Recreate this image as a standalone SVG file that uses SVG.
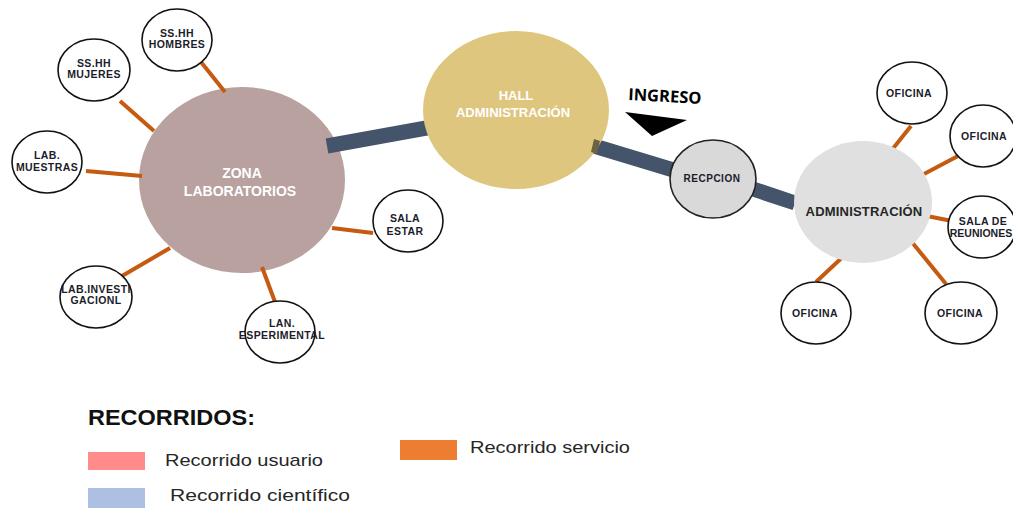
<svg xmlns="http://www.w3.org/2000/svg" width="1013" height="508" viewBox="0 0 1013 508">
<style>
.sat{fill:#fff;stroke:#111;stroke-width:1.6}
.st{font-family:"Liberation Sans",Arial,sans-serif;font-weight:bold;font-size:10.5px;letter-spacing:0.4px;fill:#1c1c2a;text-anchor:middle}
.big{font-family:"Liberation Sans",Arial,sans-serif;font-weight:bold;fill:#fff;text-anchor:middle}
.svc{stroke:#c55a11;stroke-width:4;fill:none}
.bar{stroke:#44546a;stroke-width:15;fill:none}
.leg{font-family:"Liberation Sans",Arial,sans-serif;font-size:17px;fill:#262626}
</style>
<rect width="1013" height="508" fill="#fff"/>
<g id="zona-laboratorios">
<ellipse cx="242" cy="180" rx="103" ry="93" fill="#b8a19f"/>
<text class="big" x="242" y="178" font-size="14">ZONA</text>
<text class="big" x="240" y="196" font-size="14">LABORATORIOS</text>
</g>
<g id="connectors">
<line class="bar" x1="327" y1="146" x2="432" y2="127"/>
<line class="bar" x1="594" y1="146" x2="680" y2="172"/>
<line class="bar" x1="750" y1="188" x2="795" y2="203"/>
<line class="svc" x1="201" y1="62" x2="225" y2="92"/>
<line class="svc" x1="120" y1="101" x2="154" y2="131"/>
<line class="svc" x1="86" y1="171" x2="142" y2="176"/>
<line class="svc" x1="332" y1="228" x2="373" y2="233"/>
<line class="svc" x1="122" y1="276" x2="170" y2="248"/>
<line class="svc" x1="262" y1="267" x2="275" y2="302"/>
<line class="svc" x1="911" y1="126" x2="891" y2="151"/>
<line class="svc" x1="958" y1="156" x2="924" y2="174"/>
<line class="svc" x1="927" y1="216" x2="952" y2="221"/>
<line class="svc" x1="849" y1="251" x2="816" y2="282"/>
<line class="svc" x1="911" y1="241" x2="946" y2="284"/>
</g>
<g id="hall-administracion">
<ellipse cx="516" cy="110" rx="93" ry="79" fill="#dfc67f"/>
<text class="big" x="516" y="100" font-size="13">HALL</text>
<text class="big" x="513" y="117" font-size="13">ADMINISTRACIÓN</text>
</g>
<path d="M594,139 L600,141 L597,154 L591,152 Z" fill="#6b6442"/>
<g id="ingreso">
<text x="628" y="100" font-family="'Open Sans','Liberation Sans',sans-serif" font-weight="bold" font-size="16.5" fill="#000" transform="rotate(3 628 100)">INGRESO</text>
<polygon points="625,112 687,120 652,136" fill="#000"/>
</g>
<g id="recepcion">
<ellipse cx="713" cy="179" rx="43" ry="39" fill="#d9d9d9" stroke="#222" stroke-width="1.6"/>
<text class="st" x="712" y="182" style="font-size:10px;letter-spacing:0.5px">RECPCION</text>
</g>
<g id="administracion">
<ellipse cx="863" cy="202" rx="69" ry="61" fill="#e0e0e0"/>
<text class="st" x="864" y="216" style="font-size:13px;letter-spacing:0.2px;fill:#262626">ADMINISTRACIÓN</text>
</g>
<g id="sshh-hombres">
<ellipse class="sat" cx="177" cy="40" rx="35" ry="31"/>
<text class="st" x="177" y="37">SS.HH</text>
<text class="st" x="177" y="48">HOMBRES</text>
</g>
<g id="sshh-mujeres">
<ellipse class="sat" cx="94" cy="70" rx="36" ry="31"/>
<text class="st" x="94" y="67">SS.HH</text>
<text class="st" x="94" y="78">MUJERES</text>
</g>
<g id="lab-muestras">
<ellipse class="sat" cx="47" cy="162" rx="35" ry="31"/>
<text class="st" x="47" y="159">LAB.</text>
<text class="st" x="47" y="171">MUESTRAS</text>
</g>
<g id="sala-estar">
<ellipse class="sat" cx="408" cy="221" rx="35" ry="31"/>
<text class="st" x="405" y="222">SALA</text>
<text class="st" x="405" y="235">ESTAR</text>
</g>
<g id="lab-investigacion">
<ellipse class="sat" cx="96" cy="297" rx="36" ry="31"/>
<text class="st" x="96" y="293">LAB.INVESTI</text>
<text class="st" x="96" y="304">GACIONL</text>
</g>
<g id="lan-esperimental">
<ellipse class="sat" cx="280" cy="332" rx="35" ry="31"/>
<text class="st" x="282" y="327">LAN.</text>
<text class="st" x="282" y="339">ESPERIMENTAL</text>
</g>
<g id="oficina-1">
<ellipse class="sat" cx="912" cy="93" rx="35" ry="31"/>
<text class="st" x="909" y="97">OFICINA</text>
</g>
<g id="oficina-2">
<ellipse class="sat" cx="983" cy="136" rx="33" ry="31"/>
<text class="st" x="984" y="140">OFICINA</text>
</g>
<g id="sala-reuniones">
<ellipse class="sat" cx="982" cy="227" rx="34" ry="31"/>
<text class="st" x="983" y="225">SALA DE</text>
<text class="st" x="981" y="237" style="letter-spacing:0px">REUNIONES</text>
</g>
<g id="oficina-3">
<ellipse class="sat" cx="816" cy="313" rx="35" ry="31"/>
<text class="st" x="815" y="317">OFICINA</text>
</g>
<g id="oficina-4">
<ellipse class="sat" cx="961" cy="313" rx="36" ry="31"/>
<text class="st" x="960" y="317">OFICINA</text>
</g>
<g id="legend">
<text x="88" y="425" font-family="'Liberation Sans',Arial,sans-serif" font-weight="bold" font-size="22" fill="#111" textLength="167" lengthAdjust="spacingAndGlyphs">RECORRIDOS:</text>
<rect x="88" y="452" width="57" height="18" fill="#ff8b8b"/>
<text class="leg" x="165" y="466" textLength="158" lengthAdjust="spacingAndGlyphs">Recorrido usuario</text>
<rect x="88" y="488" width="57" height="20" fill="#adc0e3"/>
<text class="leg" x="170" y="501" textLength="180" lengthAdjust="spacingAndGlyphs">Recorrido  científico</text>
<rect x="400" y="440" width="57" height="20" fill="#ed7d31"/>
<text class="leg" x="470" y="453" textLength="160" lengthAdjust="spacingAndGlyphs">Recorrido servicio</text>
</g>
</svg>
